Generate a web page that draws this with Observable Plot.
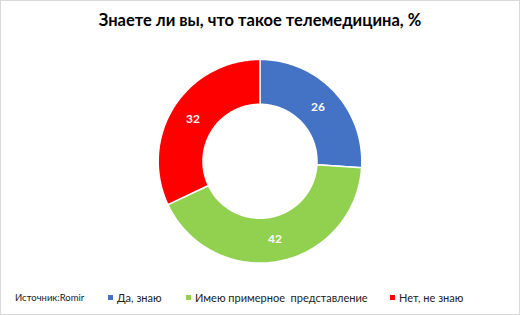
<!DOCTYPE html>
<html>
<head>
<meta charset="utf-8">
<script src="https://cdn.jsdelivr.net/npm/d3@7"></script>
<script src="https://cdn.jsdelivr.net/npm/@observablehq/plot@0.6"></script>
<style>
  html, body { margin: 0; padding: 0; background: #fff; }
  #wrap { position: relative; width: 518px; height: 313px; border: 1px solid #d9d9d9; background: #fff; font-family: Lato, "Open Sans", sans-serif; overflow: hidden; }
  #title { position: absolute; left: 0; top: 9px; width: 518px; text-align: center; font-weight: 700; font-size: 16.5px; color: #000; }
  #chart { position: absolute; left: -1px; top: 44px; }
  #legend { position: absolute; left: 0; top: 290px; width: 518px; height: 16px; font-size: 11px; color: #222; }
  .src { position: absolute; left: 14px; top: 1px; font-size: 9.5px; }
  .item { position: absolute; top: 0; white-space: pre; }
  .sw { display: inline-block; width: 5px; height: 5px; margin-right: 4px; vertical-align: 2px; }
</style>
</head>
<body>
<div id="wrap">
  <div id="title">Знаете ли  вы, что такое телемедицина, %</div>
  <div id="chart"></div>
  <div id="legend"></div>
</div>
<script>
const categories = ["Да, знаю", "Имею примерное  представление", "Нет, не знаю"];
const values = [26, 42, 32];
const sourceLabel = "Источник:Romir";
const palette = ["#4472C4", "#92D050", "#FF0000"];

const W = 520, H = 232, R = 102, innerFrac = 0.56;
const data = categories.map((c, i) => ({category: c, value: values[i]}));
const arcs = d3.pie().sort(null).value(d => d.value)(data);

// polygon points for each slice (angle clockwise from top)
const poly = [];
arcs.forEach(a => {
  const n = 120;
  const outer = d3.range(n + 1).map(k => a.startAngle + (a.endAngle - a.startAngle) * k / n);
  outer.forEach(t => poly.push({category: a.data.category, x: Math.sin(t), y: Math.cos(t)}));
  outer.slice().reverse().forEach(t => poly.push({category: a.data.category, x: innerFrac * Math.sin(t), y: innerFrac * Math.cos(t)}));
  poly.push({category: a.data.category, x: Math.sin(a.startAngle), y: Math.cos(a.startAngle)});
});
const labelR = (1 + innerFrac) / 2;
const labels = arcs.map(a => {
  const m = (a.startAngle + a.endAngle) / 2;
  return {label: String(a.data.value), x: labelR * Math.sin(m), y: labelR * Math.cos(m)};
});

const plot = Plot.plot({
  width: W, height: H,
  margin: 0,
  x: {domain: [-W / 2 / R, W / 2 / R], axis: null},
  y: {domain: [-H / 2 / R, H / 2 / R], axis: null},
  color: {domain: categories, range: palette},
  marks: [
    Plot.line(poly, {x: "x", y: "y", z: "category", fill: "category", stroke: "white", strokeWidth: 1.5, curve: "linear"}),
    Plot.text(labels, {x: "x", y: "y", text: "label", fill: "white", fontWeight: "bold", fontSize: 12, fontFamily: "Lato, sans-serif"})
  ]
});
document.getElementById("chart").appendChild(plot);

const legend = document.getElementById("legend");
const src = document.createElement("div");
src.className = "src"; src.textContent = sourceLabel;
legend.appendChild(src);
const lefts = [107, 185, 389];
categories.forEach((c, i) => {
  const it = document.createElement("div");
  it.className = "item";
  it.style.left = lefts[i] + "px";
  const sw = document.createElement("span");
  sw.className = "sw"; sw.style.background = palette[i];
  it.appendChild(sw);
  it.appendChild(document.createTextNode(c));
  legend.appendChild(it);
});
</script>
</body>
</html>
